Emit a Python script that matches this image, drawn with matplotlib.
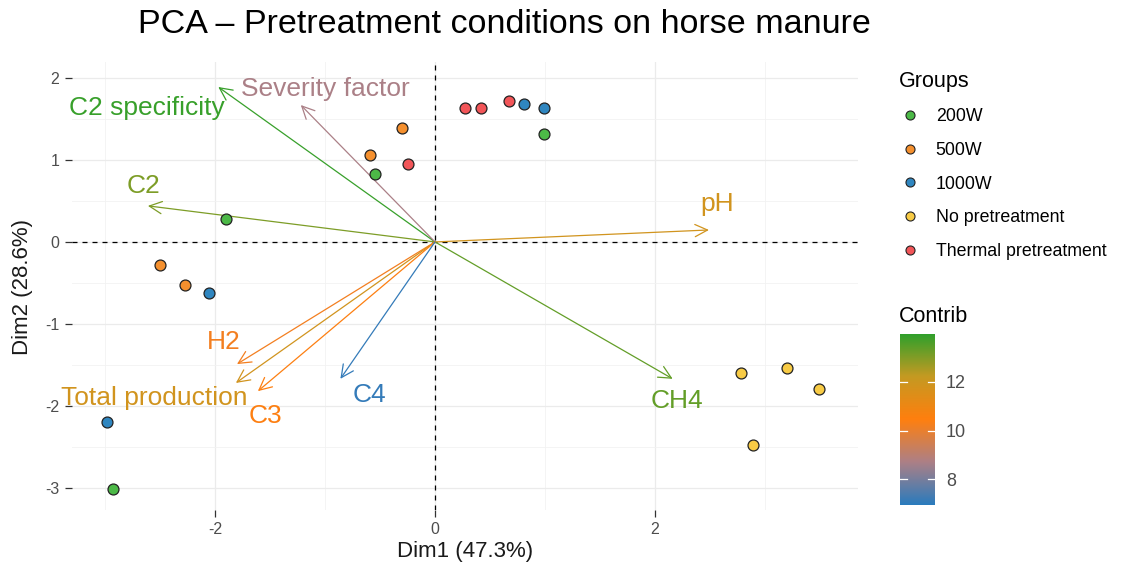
import numpy as np
import matplotlib.pyplot as plt
import matplotlib.colors as colors
from matplotlib.lines import Line2D

plt.rcParams['font.family'] = ['Liberation Sans', 'DejaVu Sans']
plt.rcParams['axes.unicode_minus'] = False

# individuals (PCA scores)
groups = ['200W', '500W', '1000W', 'No pretreatment', 'Thermal pretreatment']
group_colors = ['#4cb947', '#f5902e', '#2f86c0', '#f8cb45', '#f25558']
ind_x = {
    '200W': [-0.55, 0.99, -1.90, -2.93],
    '500W': [-0.30, -0.59, -2.50, -2.27],
    '1000W': [0.99, 0.81, -2.05, -2.98],
    'No pretreatment': [2.78, 3.20, 3.49, 2.89],
    'Thermal pretreatment': [-0.25, 0.27, 0.42, 0.67],
}
ind_y = {
    '200W': [0.83, 1.32, 0.28, -3.01],
    '500W': [1.39, 1.06, -0.28, -0.52],
    '1000W': [1.63, 1.68, -0.62, -2.20],
    'No pretreatment': [-1.60, -1.54, -1.80, -2.48],
    'Thermal pretreatment': [0.95, 1.63, 1.63, 1.72],
}

# variables (arrows)
var_names = ['C2 specificity', 'Severity factor', 'C2', 'pH', 'CH4',
             'H2', 'Total production', 'C3', 'C4']
var_x = [-1.97, -1.22, -2.61, 2.49, 2.16, -1.80, -1.81, -1.61, -0.86]
var_y = [1.89, 1.67, 0.44, 0.146, -1.67, -1.49, -1.72, -1.82, -1.67]
var_contrib = [13.8, 8.7, 13.0, 11.8, 13.3, 10.2, 11.8, 10.4, 7.1]

# label placement (data coords)
label_pos = {
    'C2 specificity': (-2.62, 1.63), 'Severity factor': (-1.0, 1.87),
    'C2': (-2.65, 0.68), 'pH': (2.56, 0.46), 'CH4': (2.2, -1.94),
    'H2': (-1.92, -1.22), 'Total production': (-2.55, -1.90),
    'C3': (-1.54, -2.12), 'C4': (-0.60, -1.87),
}

cmap = colors.LinearSegmentedColormap.from_list(
    'contrib', [(0.0, '#2a7bbd'), (0.25, '#ad8086'), (0.5, '#ff7f0e'),
                (0.75, '#c49a22'), (1.0, '#2ca02c')])
norm = colors.Normalize(vmin=6.95, vmax=13.95)

fig = plt.figure(figsize=(11.21, 5.74), dpi=100)
ax = fig.add_axes([0.0642, 0.1115, 0.7012, 0.7805])

ax.set_xlim(-3.3, 3.845)
ax.set_ylim(-3.27, 2.195)
ax.set_xticks([-2, 0, 2])
ax.set_yticks([-3, -2, -1, 0, 1, 2])
ax.set_xticks([-3, -1, 1, 3], minor=True)
ax.set_yticks(np.arange(-2.5, 2.1, 1.0), minor=True)
ax.grid(which='major', color='#ebebeb', lw=0.9)
ax.grid(which='minor', color='#f2f2f2', lw=0.6)
ax.set_axisbelow(True)
for s in ax.spines.values():
    s.set_visible(False)
ax.tick_params(which='major', length=5, width=0.9, color='#333333',
               labelcolor='#4d4d4d', labelsize=11.5, pad=4)
ax.tick_params(which='minor', length=0)

ax.axhline(0, color='black', ls=(0, (4, 4)), lw=0.9)
ax.axvline(0, color='black', ls=(0, (4, 4)), lw=0.9)

for name, x, y, c in zip(var_names, var_x, var_y, var_contrib):
    col = cmap(norm(c))
    ax.annotate('', xy=(x, y), xytext=(0, 0),
                arrowprops=dict(arrowstyle='->,head_length=0.45,head_width=0.22',
                                color=col, lw=0.9, shrinkA=0, shrinkB=0,
                                mutation_scale=20))
    lx, ly = label_pos[name]
    ax.text(lx, ly, name, color=col, fontsize=19, ha='center', va='center')

for g, gc in zip(groups, group_colors):
    ax.scatter(ind_x[g], ind_y[g], s=62, color=gc, edgecolor='#222222',
               linewidth=0.9, zorder=5)

ax.set_xlabel('Dim1 (47.3%)', fontsize=16, color='#1a1a1a')
ax.set_ylabel('Dim2 (28.6%)', fontsize=16, color='#1a1a1a')
ax.xaxis.set_label_coords(0.5, -0.07)
ax.yaxis.set_label_coords(-0.05, 0.498)

fig.text(0.45, 0.958, 'PCA \u2013 Pretreatment conditions on horse manure',
         fontsize=24.5, ha='center', va='center', color='black')

handles = [Line2D([], [], marker='o', ls='', markersize=6.5, markerfacecolor=gc,
                  markeredgecolor='#222222', markeredgewidth=0.8)
           for gc in group_colors]
leg = fig.legend(handles, groups, title='Groups', loc='upper left',
                 bbox_to_anchor=(0.788, 0.905), frameon=False, fontsize=12.8,
                 title_fontsize=15.5, labelspacing=0.94, handletextpad=0.85,
                 handlelength=1.2)
leg._legend_box.align = 'left'

cax = fig.add_axes([0.803, 0.120, 0.031, 0.298])
grad = np.linspace(norm.vmin, norm.vmax, 256).reshape(-1, 1)
cax.imshow(grad, aspect='auto', cmap=cmap, norm=norm, origin='lower',
           extent=[0, 1, norm.vmin, norm.vmax])
cax.set_xlim(0, 1)
cax.set_xticks([])
cax.yaxis.tick_right()
cax.set_yticks([8, 10, 12])
cax.tick_params(axis='y', length=0, labelsize=13, labelcolor='#4d4d4d', pad=8)
for t in [8, 10, 12]:
    cax.plot([0, 0.2], [t, t], color='white', lw=0.9)
    cax.plot([0.8, 1], [t, t], color='white', lw=0.9)
for s in cax.spines.values():
    s.set_visible(False)
fig.text(0.802, 0.449, 'Contrib', fontsize=15.5, ha='left', va='center')

fig.savefig('out.png', dpi=100, facecolor='white')
